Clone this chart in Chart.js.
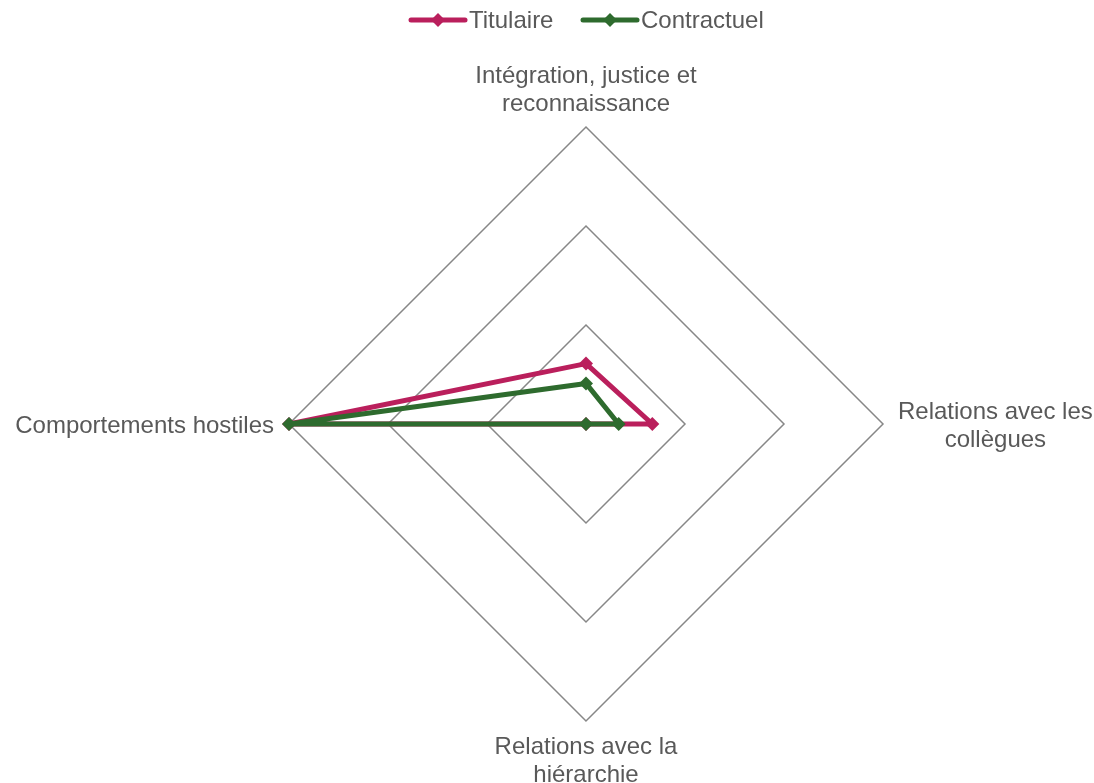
<!DOCTYPE html>
<html>
<head>
<meta charset="utf-8">
<script src="https://cdn.jsdelivr.net/npm/chart.js@4.4.1/dist/chart.umd.min.js"></script>
<style>
  html, body { margin: 0; padding: 0; background: #fff; }
  #wrap { width: 1094px; height: 783px; position: relative; }
</style>
</head>
<body>
<div id="wrap"><canvas id="radarChart"></canvas></div>
<script>
// axes of the radar (clockwise from top)
var categories = [
    ['Intégration, justice et', 'reconnaissance'],
    ['Relations avec les', 'collègues'],
    ['Relations avec la', 'hiérarchie'],
    ['Comportements hostiles']
];
var titulaire = [0.61, 0.67, 0, 3];
var contractuel = [0.41, 0.33, 0, 3];
var seriesNames = ['Titulaire', 'Contractuel'];
var seriesColors = ['#BA1F5C', '#2E6B2E'];
var scaleMax = 3;
var scaleStep = 1;

var FONT = '24px "Liberation Sans", Arial, sans-serif';
var TEXT_COLOR = '#595959';

// legend drawn by hand: line + diamond marker, like the original
var lineLegend = {
    id: 'lineLegend',
    afterDraw: function(chart) {
        var ctx = chart.ctx;
        var items = [
            { text: seriesNames[0], color: seriesColors[0], x: 411 },
            { text: seriesNames[1], color: seriesColors[1], x: 583 }
        ];
        var y = 20;
        ctx.save();
        ctx.font = FONT;
        ctx.textBaseline = 'middle';
        items.forEach(function(it) {
            ctx.strokeStyle = it.color;
            ctx.lineWidth = 5;
            ctx.lineCap = 'round';
            ctx.beginPath();
            ctx.moveTo(it.x, y);
            ctx.lineTo(it.x + 54, y);
            ctx.stroke();
            ctx.fillStyle = it.color;
            ctx.beginPath();
            ctx.moveTo(it.x + 27, y - 7);
            ctx.lineTo(it.x + 34, y);
            ctx.lineTo(it.x + 27, y + 7);
            ctx.lineTo(it.x + 20, y);
            ctx.closePath();
            ctx.fill();
            ctx.fillStyle = TEXT_COLOR;
            ctx.fillText(it.text, it.x + 58, y + 1);
        });
        ctx.restore();
    }
};

// axis labels drawn as centred text blocks just outside the outer ring
var axisLabels = {
    id: 'axisLabels',
    afterDraw: function(chart) {
        var scale = chart.scales.r;
        var ctx = chart.ctx;
        var lineH = 28;
        ctx.save();
        ctx.font = FONT;
        ctx.fillStyle = TEXT_COLOR;
        ctx.textAlign = 'center';
        ctx.textBaseline = 'middle';
        categories.forEach(function(lines, i) {
            var p = scale.getPointPositionForValue(i, scaleMax);
            var w = 0;
            lines.forEach(function(l) { w = Math.max(w, ctx.measureText(l).width); });
            var h = lines.length * lineH;
            var cx = p.x, cy = p.y + 2;
            var dx = p.x - scale.xCenter, dy = p.y - scale.yCenter;
            if (Math.abs(dx) > Math.abs(dy)) {
                cx = p.x + Math.sign(dx) * (15 + w / 2);
            } else {
                cy += Math.sign(dy) * (10.5 + h / 2);
            }
            lines.forEach(function(l, k) {
                ctx.fillText(l, cx, cy - h / 2 + lineH * (k + 0.5));
            });
        });
        ctx.restore();
    }
};

var ctx = document.getElementById('radarChart').getContext('2d');
new Chart(ctx, {
    type: 'radar',
    data: {
        labels: categories,
        datasets: [
            {
                label: seriesNames[0],
                data: titulaire,
                order: 2,
                borderColor: seriesColors[0],
                backgroundColor: seriesColors[0],
                borderWidth: 5,
                borderJoinStyle: 'round',
                fill: false,
                pointStyle: 'rectRot',
                pointRadius: 7,
                pointBorderWidth: 0,
                pointBackgroundColor: seriesColors[0]
            },
            {
                label: seriesNames[1],
                data: contractuel,
                order: 1,
                borderColor: seriesColors[1],
                backgroundColor: seriesColors[1],
                borderWidth: 5,
                borderJoinStyle: 'round',
                fill: false,
                pointStyle: 'rectRot',
                pointRadius: 7,
                pointBorderWidth: 0,
                pointBackgroundColor: seriesColors[1]
            }
        ]
    },
    options: {
        responsive: true,
        maintainAspectRatio: false,
        animation: false,
        layout: {
            padding: { top: 127, bottom: 62, left: 289, right: 211 }
        },
        elements: {
            line: { tension: 0 }
        },
        plugins: {
            legend: { display: false },
            tooltip: { enabled: false }
        },
        scales: {
            r: {
                min: 0,
                max: scaleMax,
                ticks: { stepSize: scaleStep, display: false },
                angleLines: { display: false },
                grid: { color: '#878787', lineWidth: 1.5 },
                pointLabels: { display: false }
            }
        }
    },
    plugins: [lineLegend, axisLabels]
});
</script>
</body>
</html>
